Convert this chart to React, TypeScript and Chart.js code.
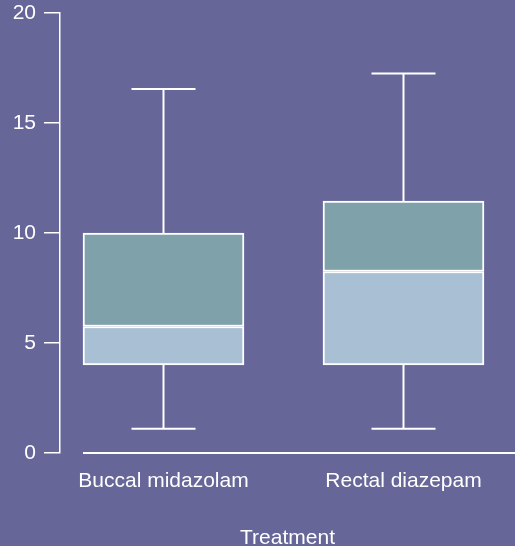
import React, { useEffect, useRef } from "react";
import { Chart, registerables } from "chart.js";

Chart.register(...registerables);

const categories = ["Buccal midazolam", "Rectal diazepam"];
const whiskerLow = [1.1, 1.1];
const q1 = [4.0, 4.0];
const median = [5.75, 8.25];
const q3 = [10.0, 11.45];
const whiskerHigh = [16.55, 17.25];
const yTickValues = [0, 5, 10, 15, 20];
const xTitle = "Treatment";

const BG = "#666699";
const LOWER = "#a9bfd4";
const UPPER = "#7fa1aa";
const FG = "#ffffff";
const FONT = "'Liberation Sans', Arial, sans-serif";
const BOX_W = 161;
const CAP_W = 64;

export default function App() {
  const ref = useRef<HTMLCanvasElement | null>(null);
  useEffect(() => {
    document.body.style.margin = "0";
    const canvas = ref.current!;
    const bgPlugin = {
      id: "bg",
      beforeDraw(chart: any) {
        const c = chart.ctx;
        c.save();
        c.fillStyle = BG;
        c.fillRect(0, 0, chart.width, chart.height);
        c.restore();
      },
    };
    const whiskerPlugin = {
      id: "whiskers",
      afterDatasetsDraw(chart: any) {
        const c = chart.ctx;
        const xs = chart.scales.x;
        const ys = chart.scales.y;
        c.save();
        c.strokeStyle = FG;
        c.lineWidth = 2;
        categories.forEach((_, i) => {
          const x = xs.getPixelForValue(i + 1);
          const segs: [number, number][] = [
            [q3[i], whiskerHigh[i]],
            [q1[i], whiskerLow[i]],
          ];
          segs.forEach(([a, b]) => {
            c.beginPath();
            c.moveTo(x, ys.getPixelForValue(a));
            c.lineTo(x, ys.getPixelForValue(b));
            c.stroke();
            c.beginPath();
            c.moveTo(x - CAP_W / 2, ys.getPixelForValue(b));
            c.lineTo(x + CAP_W / 2, ys.getPixelForValue(b));
            c.stroke();
          });
        });
        const y0 = ys.getPixelForValue(0);
        c.beginPath();
        c.moveTo(xs.getPixelForValue(1) - BOX_W / 2, y0);
        c.lineTo(chart.chartArea.right, y0);
        c.stroke();
        c.restore();
      },
    };
    const chart = new Chart(canvas, {
      type: "bar",
      data: {
        datasets: [
          {
            data: categories.map((_, i) => ({ x: i + 1, y: [q1[i], median[i]] })),
            backgroundColor: LOWER,
            borderColor: FG,
            borderWidth: 2,
            borderSkipped: false,
            barThickness: BOX_W,
            grouped: false,
          } as any,
          {
            data: categories.map((_, i) => ({ x: i + 1, y: [median[i], q3[i]] })),
            backgroundColor: UPPER,
            borderColor: FG,
            borderWidth: 2,
            borderSkipped: false,
            barThickness: BOX_W,
            grouped: false,
          } as any,
        ],
      },
      options: {
        responsive: false,
        animation: false,
        layout: { padding: { top: 13, left: 0, right: 0, bottom: 0 } },
        plugins: { legend: { display: false }, tooltip: { enabled: false } },
        scales: {
          x: {
            type: "linear",
            min: 0.56875,
            max: 2.4646,
            offset: false,
            grace: 0,
            bounds: "ticks",
            grid: { display: false },
            border: { display: false },
            afterBuildTicks: (s: any) => {
              s.ticks = categories.map((_, i) => ({ value: i + 1 }));
            },
            afterFit: (s: any) => {
              s.height = 93;
              s.paddingLeft = 0;
              s.paddingRight = 0;
            },
            ticks: {
              autoSkip: false,
              maxRotation: 0,
              minRotation: 0,
              padding: 8,
              color: FG,
              font: { family: FONT, size: 21 },
              callback: (v: any) => categories[Number(v) - 1] ?? "",
            },
            title: {
              display: true,
              text: xTitle,
              color: FG,
              font: { family: FONT, size: 21 },
              padding: { top: 0, bottom: -5 },
            },
          },
          y: {
            type: "linear",
            min: 0,
            max: 20,
            afterBuildTicks: (s: any) => {
              s.ticks = yTickValues.map((v) => ({ value: v }));
            },
            afterFit: (s: any) => {
              s.width = 60;
              s.paddingTop = 0;
              s.paddingBottom = 0;
            },
            grid: {
              drawOnChartArea: false,
              color: FG,
              tickLength: 16,
              lineWidth: 1.5,
            },
            border: { display: true, color: FG, width: 1.5 },
            ticks: {
              padding: 8,
              color: FG,
              font: { family: FONT, size: 21 },
            },
          },
        },
      },
      plugins: [bgPlugin, whiskerPlugin],
    } as any);
    return () => chart.destroy();
  }, []);
  return <canvas ref={ref} width={515} height={546} style={{ display: "block" }} />;
}
